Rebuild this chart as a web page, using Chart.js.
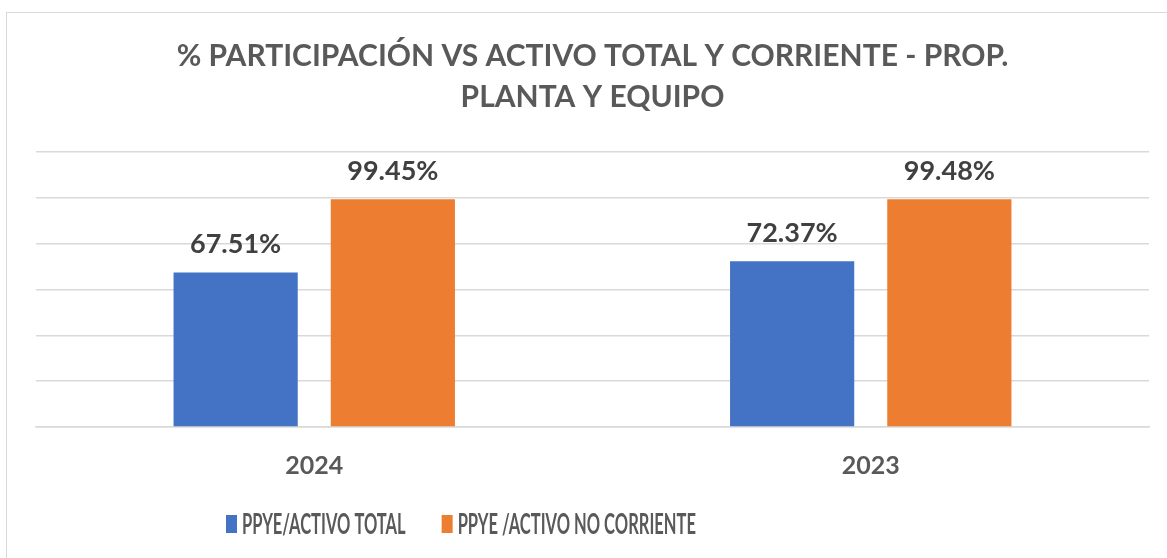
<!DOCTYPE html>
<html>
<head>
<meta charset="utf-8">
<script src="https://cdn.jsdelivr.net/npm/chart.js@4.4.1/dist/chart.umd.min.js"></script>
<style>
  body { margin: 0; background: #fff; }
  #wrap { position: relative; width: 1167px; height: 558px; }
  #frame { position: absolute; left: 6px; top: 12px; width: 1180px; height: 560px; border: 1px solid #d9d9d9; box-sizing: border-box; }
  canvas { position: absolute; left: 0; top: 0; }
</style>
</head>
<body>
<div id="wrap">
  <div id="frame"></div>
  <canvas id="chart" width="1167" height="558"></canvas>
</div>
<script>
// Chart data
const years = ['2024', '2023'];
const ppyeActivoTotal = [67.51, 72.37];
const ppyeActivoNoCorriente = [99.45, 99.48];
const seriesNames = ['PPYE/ACTIVO TOTAL', 'PPYE /ACTIVO NO CORRIENTE'];
const seriesColors = ['#4472c4', '#ed7d31'];

const FONT = 'Lato, "Liberation Sans", sans-serif';

// draw the % value above each bar
const valueLabels = {
    id: 'valueLabels',
    afterDatasetsDraw(chart) {
        const ctx = chart.ctx;
        ctx.save();
        ctx.font = 'bold 27px ' + FONT;
        ctx.fillStyle = '#404040';
        ctx.textAlign = 'center';
        ctx.textBaseline = 'middle';
        chart.data.datasets.forEach((ds, i) => {
            chart.getDatasetMeta(i).data.forEach((bar, j) => {
                ctx.fillText(ds.data[j].toFixed(2) + '%', bar.x, bar.y - 28);
            });
        });
        ctx.restore();
    }
};

// legend drawn by hand: the original uses a narrow font and sits left of centre
const narrowLegend = {
    id: 'narrowLegend',
    afterDraw(chart) {
        const ctx = chart.ctx;
        const squeeze = 0.59;
        let x = 226;
        const y = 524;
        ctx.save();
        ctx.font = 'bold 28px ' + FONT;
        ctx.textBaseline = 'middle';
        chart.data.datasets.forEach((ds, i) => {
            ctx.fillStyle = ds.backgroundColor;
            ctx.fillRect(x, y - 9, 11, 18);
            x += 16;
            const w = ctx.measureText(ds.label).width * squeeze;
            ctx.save();
            ctx.translate(x, y);
            ctx.scale(squeeze, 1);
            ctx.fillStyle = '#595959';
            ctx.fillText(ds.label, 0, 1);
            ctx.restore();
            x += w + 36;
        });
        ctx.restore();
    }
};

new Chart(document.getElementById('chart'), {
    type: 'bar',
    data: {
        labels: years,
        datasets: [{
            label: seriesNames[0],
            data: ppyeActivoTotal,
            backgroundColor: seriesColors[0],
            categoryPercentage: 0.565,
            barPercentage: 0.79
        }, {
            label: seriesNames[1],
            data: ppyeActivoNoCorriente,
            backgroundColor: seriesColors[1],
            categoryPercentage: 0.565,
            barPercentage: 0.79
        }]
    },
    options: {
        responsive: false,
        animation: false,
        layout: { padding: { left: 36, right: 18, top: 0, bottom: 61 } },
        plugins: {
            title: {
                display: true,
                text: ['% PARTICIPACIÓN VS ACTIVO TOTAL Y CORRIENTE - PROP.', 'PLANTA Y EQUIPO'],
                color: '#595959',
                font: { family: FONT, size: 30, weight: 'bold', lineHeight: 1.37 },
                padding: { top: 36, bottom: 34 }
            },
            legend: { display: false },
            tooltip: { enabled: false }
        },
        scales: {
            x: {
                grid: { display: false },
                border: { color: '#d9d9d9', width: 1.5 },
                ticks: { color: '#595959', font: { family: FONT, size: 25, weight: 'bold', lineHeight: 1.2 }, padding: 16 }
            },
            y: {
                min: 0,
                max: 120,
                ticks: { display: false, stepSize: 20 },
                grid: { color: '#d9d9d9', lineWidth: 1.5, drawTicks: false },
                border: { display: false }
            }
        }
    },
    plugins: [valueLabels, narrowLegend]
});
</script>
</body>
</html>
